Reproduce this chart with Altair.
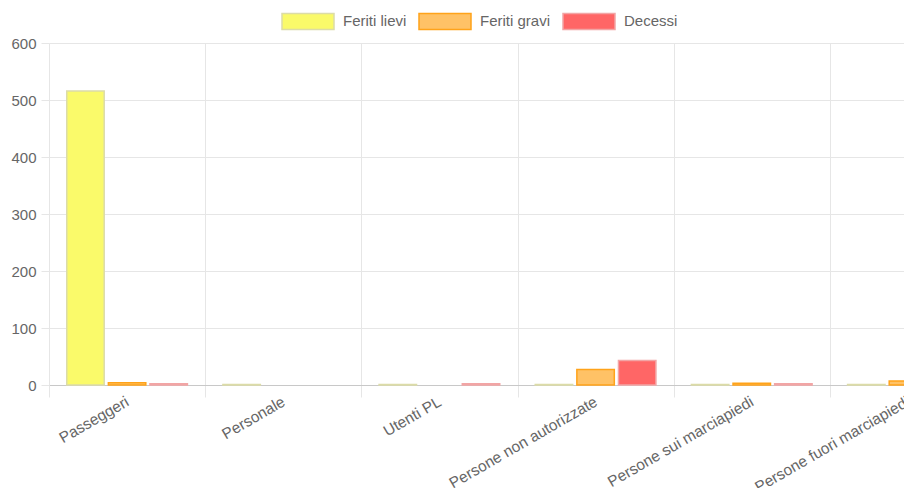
import altair as alt
import pandas as pd

categorie = [
    "Passeggeri",
    "Personale",
    "Utenti PL",
    "Persone non autorizzate",
    "Persone sui marciapiedi",
    "Persone fuori marciapiedi",
]
serie = ["Feriti lievi", "Feriti gravi", "Decessi"]
feriti_lievi = [516, 1, 1, 1, 1, 1]
feriti_gravi = [4, 0, 0, 27, 3, 7]
decessi = [2, 0, 2, 43, 2, 2]
y_ticks = [0, 100, 200, 300, 400, 500, 600]

fill_colors = ["#fafa6a", "#ffc266", "#ff6666"]
stroke_colors = ["#dcdca8", "#ffa31a", "#f2a5a5"]

rows = []
for s, vals in zip(serie, [feriti_lievi, feriti_gravi, decessi]):
    for c, v in zip(categorie, vals):
        rows.append({"categoria": c, "serie": s, "valore": v})
df = pd.DataFrame(rows)

FONT = "Liberation Sans"
GRID = "#e6e6e6"

chart = (
    alt.Chart(df)
    .transform_filter("datum.valore > 0")
    .mark_bar(strokeWidth=1.5)
    .encode(
        x=alt.X(
            "categoria:N",
            sort=categorie,
            title=None,
            scale=alt.Scale(domain=categorie, range=[0, 937], paddingInner=0, paddingOuter=0),
            axis=alt.Axis(
                tickBand="extent",
                labelAngle=-30,
                labelAlign="right",
                labelBaseline="middle",
                labelFontSize=15.5,
                tickSize=12,
                labelPadding=3,
                grid=True,
                gridColor=GRID,
                tickColor=GRID,
                domainColor="#c8c8c8",
                labelOverlap=False,
                labelLimit=300,
            ),
        ),
        xOffset=alt.XOffset(
            "serie:N",
            sort=serie,
            scale=alt.Scale(domain=serie, paddingInner=0.1, paddingOuter=0.4265),
        ),
        y=alt.Y(
            "valore:Q",
            title=None,
            scale=alt.Scale(domain=[0, 600], nice=False),
            axis=alt.Axis(
                values=y_ticks,
                grid=True,
                gridColor=GRID,
                tickColor=GRID,
                tickSize=8,
                domainColor=GRID,
                labelPadding=5,
            ),
        ),
        fill=alt.Fill("serie:N", sort=serie, title=None,
                      scale=alt.Scale(domain=serie, range=fill_colors)),
        stroke=alt.Stroke("serie:N", sort=serie, title=None,
                          scale=alt.Scale(domain=serie, range=stroke_colors)),
    )
    .properties(
        width=855,
        height=342,
        autosize=alt.AutoSizeParams(type="none"),
        padding={"left": 41, "top": 35, "right": 0, "bottom": 103},
    )
    .configure_view(stroke=None)
    .configure_axis(labelFont=FONT, labelFontSize=15, labelColor="#666666")
    .configure_legend(
        orient="none",
        legendX=232,
        legendY=-49,
        direction="horizontal",
        symbolType="M-1,-0.31 H1 V0.31 H-1 Z",
        symbolSize=2704,
        symbolStrokeWidth=1.5,
        labelFont=FONT,
        labelFontSize=15,
        labelColor="#666666",
        labelOffset=8,
        columnPadding=9,
        padding=0,
    )
)

chart.save("out.html", embed_options={"renderer": "svg", "actions": False})
